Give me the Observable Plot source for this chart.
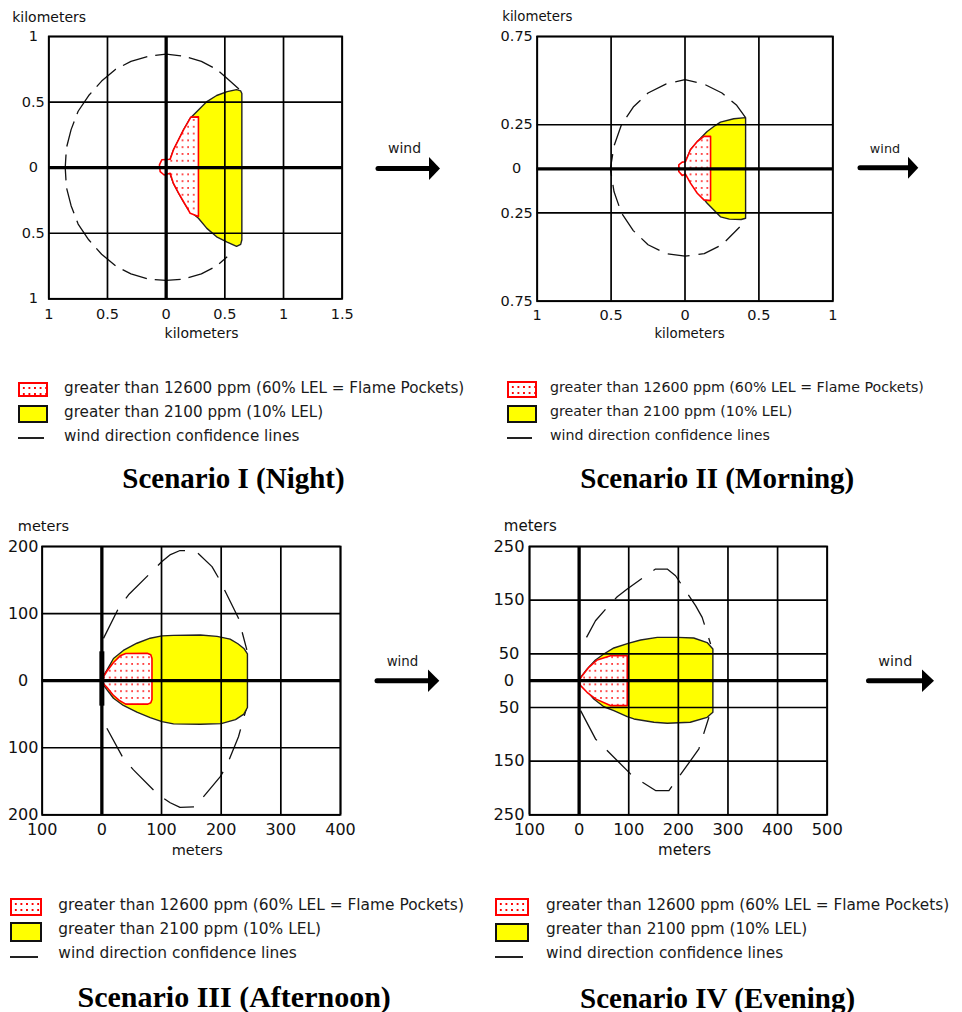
<!DOCTYPE html>
<html><head><meta charset="utf-8">
<script src="https://cdn.jsdelivr.net/npm/d3@7"></script>
<script src="https://cdn.jsdelivr.net/npm/@observablehq/plot@0.6"></script>
<style>
html,body{margin:0;padding:0;background:#fff;}
body{width:962px;height:1012px;position:relative;overflow:hidden;font-family:"DejaVu Sans",Verdana,sans-serif;}
.panel{position:absolute;}
.panel svg{display:block;}
.ltext{position:absolute;white-space:nowrap;color:#1a1a1a;transform:translateY(-50%);line-height:1.2;}
.sw{position:absolute;box-sizing:border-box;}
.title{position:absolute;font-family:"Liberation Serif","Times New Roman",serif;font-weight:bold;color:#000;white-space:nowrap;transform:translate(-50%,-50%);line-height:1.2;}
#overlay{position:absolute;left:0;top:0;}
</style></head><body>
<script>
// ---------------- DATA ----------------
const titles = ["Scenario I (Night)", "Scenario II (Morning)", "Scenario III (Afternoon)", "Scenario IV (Evening)"];
const units = ["kilometers", "kilometers", "meters", "meters"];
const legendLabels = ["greater than 12600 ppm (60% LEL = Flame Pockets)", "greater than 2100 ppm (10% LEL)", "wind direction confidence lines"];
const windLabel = "wind";

// Scenario I (km)
const p1XTicks = [-1, -0.5, 0, 0.5, 1, 1.5];
const p1YTicks = [-1, -0.5, 0, 0.5, 1];
const p1Yellow = [[0.02,0],[0.034,0.064],[0.062,0.135],[0.105,0.211],[0.148,0.288],[0.205,0.377],[0.275,0.44],[0.347,0.504],[0.43,0.55],[0.52,0.58],[0.60,0.595],[0.635,0.585],[0.645,0.565],[0.645,-0.55],[0.635,-0.585],[0.60,-0.60],[0.52,-0.567],[0.43,-0.527],[0.347,-0.463],[0.275,-0.386],[0.19,-0.323],[0.148,-0.26],[0.105,-0.193],[0.062,-0.12],[0.034,-0.05]];
const p1Red = [[0.034,0.064],[-0.037,0.06],[-0.057,0.021],[-0.051,-0.031],[-0.017,-0.056],[0.034,-0.043],[0.062,-0.12],[0.105,-0.193],[0.148,-0.26],[0.19,-0.323],[0.205,-0.348],[0.275,-0.372],[0.275,0.387],[0.21,0.385],[0.19,0.353],[0.148,0.288],[0.105,0.211],[0.062,0.135]];
const p1Dash = [[[0.62,0.60],[0.52,0.68],[0.43,0.75],[0.30,0.81],[0.15,0.85],[0,0.865],[-0.15,0.85],[-0.30,0.81],[-0.43,0.75],[-0.55,0.66],[-0.66,0.55],[-0.75,0.43],[-0.81,0.29],[-0.85,0.15],[-0.86,0],[-0.85,-0.15],[-0.81,-0.29],[-0.75,-0.43],[-0.66,-0.55],[-0.55,-0.66],[-0.43,-0.75],[-0.30,-0.81],[-0.15,-0.85],[0,-0.86],[0.15,-0.85],[0.30,-0.81],[0.43,-0.75],[0.52,-0.68]]];

// Scenario II (km)
const p2XTicks = [-1, -0.5, 0, 0.5, 1];
const p2YTicks = [-0.75, -0.25, 0, 0.25, 0.75];
const p2Yellow = [[0,0],[0.003,0.04],[0.037,0.108],[0.105,0.174],[0.15,0.212],[0.195,0.24],[0.24,0.265],[0.33,0.284],[0.41,0.29],[0.41,-0.28],[0.38,-0.287],[0.30,-0.285],[0.24,-0.272],[0.195,-0.233],[0.15,-0.195],[0.105,-0.148],[0.037,-0.072],[0.003,-0.025]];
const p2Red = [[0.003,0.04],[0.037,0.108],[0.083,0.155],[0.128,0.184],[0.173,0.184],[0.173,-0.18],[0.128,-0.176],[0.083,-0.138],[0.037,-0.081],[0.003,-0.03],[-0.019,-0.037],[-0.042,-0.015],[-0.042,0.023],[-0.019,0.038]];
const p2Dash = [[[0.41,0.29],[0.35,0.36],[0.25,0.43],[0.13,0.48],[0,0.505],[-0.13,0.48],[-0.25,0.43],[-0.35,0.35],[-0.43,0.25],[-0.48,0.13],[-0.505,0],[-0.48,-0.13],[-0.43,-0.25],[-0.35,-0.35],[-0.25,-0.43],[-0.13,-0.48],[0,-0.495],[0.13,-0.48],[0.25,-0.43],[0.37,-0.33]]];

// Scenario III (m)
const p3XTicks = [-100, 0, 100, 200, 300, 400];
const p3YTicks = [-200, -100, 0, 100, 200];
const p3Yellow = [[0,3],[8,15],[19.5,33],[36,45],[58.7,55.8],[81,63.3],[100.7,66.7],[120,67.5],[165,68],[193,66],[215,62],[228,55],[238,48],[244,40],[244,-40],[238,-50],[224,-58],[200,-64],[165,-65],[120,-64.5],[100.7,-61],[81,-55],[58.7,-47],[36,-37],[19.5,-26.3],[8,-13],[0,-3]];
const p3Red = [[0,2],[8.4,14],[19.5,27],[30.7,37],[40,40.5],[76,40.9],[82,38.5],[84,33],[84,-28],[82,-33],[77,-35],[40,-35],[30,-30],[19.5,-22],[8.4,-10],[0,-2]];
const p3Dash = [
  [[2.7,63],[28,108],[44.7,128],[86.6,165],[100.7,177.6],[115,188],[131,194],[156.5,194],[184.6,170],[195.7,153],[220.8,108],[229,93],[243,45.8]],
  [[8.4,-71],[36,-116],[53,-133],[95,-170.6],[114.6,-182],[131,-189],[156.5,-188],[198.5,-143],[209.7,-126],[229,-83.6],[243,-39]]
];
const p3Source = [{x: 0, y1: -38, y2: 43}];

// Scenario IV (m)
const p4XTicks = [-100, 0, 100, 200, 300, 400, 500];
const p4YTicks = [-250, -150, -50, 0, 50, 150, 250];
const p4Yellow = [[0,0],[3,6],[16.3,21.7],[33,38.5],[49.8,49.7],[70,60.9],[100.5,70],[124,75.8],[157.6,80.7],[197.8,80.7],[231,79.5],[258,71],[269.6,59],[269.6,-59],[258,-68.3],[224,-77.6],[177.6,-79.5],[150.8,-77.6],[110.5,-71.4],[97,-67],[70,-56],[49.8,-48.6],[29.6,-34.3],[9.5,-12.4]];
const p4Red = [[0,0],[6.2,9.3],[19.6,24.8],[36.4,38.5],[63.3,46.5],[97,46.5],[97,-46.5],[63,-46.5],[33,-34],[16,-21.7],[3,-9.3]];
const p4Dash = [
  [[14.9,80.7],[33,111.7],[56.6,136.5],[76.8,156.4],[97,170.7],[133.9,195.5],[154,208],[177.6,208],[194.4,195.5],[234.7,139.7],[248,117.9],[265,68.3]],
  [[3,-55.9],[33,-108.6],[49.8,-124],[103.6,-173.8],[127,-189],[154,-204.8],[181,-204.8],[224.6,-149],[241.4,-127],[261.6,-68.3]]
];

// ---------------- LAYOUT ----------------
const panels = [
  {id:"p1", xTicks:p1XTicks, yTicks:p1YTicks, yellow:p1Yellow, red:p1Red, dash:p1Dash, source:null,
   left:0, top:0, width:480, height:345, m:[36,138.3,46.7,48.3], thickX0:true,
   tickFont:14.5, unitFont:14, yTickDx:-15.5, xTickDy:15.3, unitTop:[-36.6,-19.3], unitBottom:[6,35], dashArray:"26,8",
   arrow:{x0:378,x1:429,tip:440,y:168.5,hh:11.5}, wind:{x:404.6,y:148,size:14},
   legend:{sx:18, sw:30, red:[381.7,15.6], yellow:[405,17.7], line:[438,26], tx:64, rows:[388,412,436], size:15.2},
   title:{x:233.5,y:478,size:29}},
  {id:"p2", xTicks:p2XTicks, yTicks:p2YTicks, yellow:p2Yellow, red:p2Red, dash:p2Dash, source:null,
   left:480, top:0, width:482, height:345, m:[36,129.7,44.3,56.7], thickX0:false,
   tickFont:14.5, unitFont:13.3, yTickDx:-20.5, xTickDy:14.3, unitTop:[-35,-19.3], unitBottom:[4.5,32.6], dashArray:"22,9",
   arrow:{x0:860,x1:908,tip:918.3,y:167.7,hh:11}, wind:{x:885,y:148.3,size:12.8},
   legend:{sx:506.7, sw:30, red:[380.7,17.6], yellow:[405,18.3], line:[438.3,25], tx:550, rows:[388.3,411.7,436], size:14.2},
   title:{x:717.3,y:478.3,size:29}},
  {id:"p3", xTicks:p3XTicks, yTicks:p3YTicks, yellow:p3Yellow, red:p3Red, dash:p3Dash, source:p3Source,
   left:0, top:510, width:480, height:345, m:[36,140,40.7,41.7], thickX0:true,
   tickFont:16, unitFont:14.5, yTickDx:-19, xTickDy:15.3, unitTop:[-24.4,-20], unitBottom:[5.9,35.7], dashArray:"32,14",
   arrow:{x0:377,x1:428,tip:439.3,y:680.7,hh:11.2}, wind:{x:402.5,y:661,size:13.4},
   legend:{sx:10, sw:32.3, red:[897.7,18], yellow:[921.7,20], line:[957.3,28.3], tx:58.3, rows:[905,929.3,953.3], size:15.4},
   title:{x:234.2,y:996.7,size:30}},
  {id:"p4", xTicks:p4XTicks, yTicks:p4YTicks, yellow:p4Yellow, red:p4Red, dash:p4Dash, source:null,
   left:480, top:510, width:482, height:345, m:[36,135.3,40.7,49], thickX0:true,
   tickFont:16.3, unitFont:15, yTickDx:-20.5, xTickDy:15, unitTop:[-25.7,-20], unitBottom:[6.2,35.7], dashArray:"34,14",
   arrow:{x0:868.5,x1:922,tip:934,y:680.7,hh:11.2}, wind:{x:895.3,y:661,size:14.4},
   legend:{sx:495, sw:34, red:[898,18], yellow:[923,19], line:[957,28], tx:546, rows:[905,929,953], size:15.3},
   title:{x:717.6,y:998,size:29}}
];

const toObj = a => a.map(([x, y]) => ({x, y}));
const fmt = d => String(Math.abs(d));

panels.forEach((c, i) => {
  const xDomain = d3.extent(c.xTicks), yDomain = d3.extent(c.yTicks);
  const marks = [
    ...c.dash.map(seg => Plot.line(toObj(seg), {x: "x", y: "y", stroke: "#111", strokeWidth: 1.3, strokeDasharray: c.dashArray, strokeLinecap: "butt"})),
    Plot.line(toObj(c.yellow), {x: "x", y: "y", curve: "linear-closed", fill: "#ffff00", stroke: "#222", strokeWidth: 1.4}),
    Plot.line(toObj(c.red), {x: "x", y: "y", curve: "linear-closed", fill: `url(#${c.id}-dots)`, stroke: "#ff0000", strokeWidth: 1.6}),
    Plot.ruleX(c.xTicks, {stroke: "#000", strokeWidth: 1.7}),
    Plot.ruleY(c.yTicks, {stroke: "#000", strokeWidth: 1.7}),
    Plot.ruleY([0], {stroke: "#000", strokeWidth: 3.3}),
    c.thickX0 ? Plot.ruleX([0], {stroke: "#000", strokeWidth: 3.3}) : null,
    c.source ? Plot.ruleX(c.source, {x: "x", y1: "y1", y2: "y2", stroke: "#000", strokeWidth: 5}) : null,
    Plot.frame({stroke: "#000", strokeWidth: 1.8}),
    Plot.text(c.xTicks, {x: d => d, frameAnchor: "bottom", lineAnchor: "middle", dy: c.xTickDy, text: fmt, fontSize: c.tickFont, fill: "#111"}),
    Plot.text(c.yTicks, {y: d => d, frameAnchor: "left", lineAnchor: "middle", dx: c.yTickDx, textAnchor: "middle", text: fmt, fontSize: c.tickFont, fill: "#111"}),
    Plot.text([units[i]], {frameAnchor: "top-left", lineAnchor: "middle", dx: c.unitTop[0], dy: c.unitTop[1], textAnchor: "start", text: d => d, fontSize: c.unitFont, fill: "#111"}),
    Plot.text([units[i]], {frameAnchor: "bottom", lineAnchor: "middle", dx: c.unitBottom[0], dy: c.unitBottom[1], text: d => d, fontSize: c.unitFont, fill: "#111"})
  ].filter(Boolean);
  const svg = Plot.plot({
    width: c.width, height: c.height,
    marginTop: c.m[0], marginRight: c.m[1], marginBottom: c.m[2], marginLeft: c.m[3],
    x: {domain: xDomain, axis: null},
    y: {domain: yDomain, axis: null},
    style: {fontFamily: "DejaVu Sans, Verdana, sans-serif", background: "white", overflow: "visible"},
    marks
  });
  d3.select(svg).insert("defs", ":first-child").html(
    `<pattern id="${c.id}-dots" width="5.6" height="6.8" patternUnits="userSpaceOnUse"><rect width="5.6" height="6.8" fill="#fff"/><rect x="2" y="3" width="1.7" height="1.7" fill="#ff2020"/></pattern>`);
  const div = document.createElement("div");
  div.className = "panel";
  div.style.left = c.left + "px"; div.style.top = c.top + "px";
  div.appendChild(svg);
  document.body.appendChild(div);

  // legend
  const L = c.legend;
  const red = document.createElement("div");
  red.className = "sw";
  Object.assign(red.style, {left: L.sx + "px", top: L.red[0] + "px", width: L.sw + "px", height: L.red[1] + "px",
    border: "2px solid #ff0000", background: "#fff",
    backgroundImage: "radial-gradient(circle, #ff0000 0.9px, transparent 1.3px)", backgroundSize: "5.6px 6px", backgroundPosition: "1px 1px"});
  document.body.appendChild(red);
  const yel = document.createElement("div");
  yel.className = "sw";
  Object.assign(yel.style, {left: L.sx + "px", top: L.yellow[0] + "px", width: L.sw + "px", height: L.yellow[1] + "px",
    border: "2px solid #111", background: "#ffff00"});
  document.body.appendChild(yel);
  const ln = document.createElement("div");
  ln.className = "sw";
  Object.assign(ln.style, {left: L.sx + "px", top: (L.line[0] - 1) + "px", width: L.line[1] + "px", height: "2px", background: "#222"});
  document.body.appendChild(ln);
  legendLabels.forEach((t, k) => {
    const d = document.createElement("div");
    d.className = "ltext";
    d.textContent = t;
    Object.assign(d.style, {left: L.tx + "px", top: L.rows[k] + "px", fontSize: L.size + "px"});
    document.body.appendChild(d);
  });

  // title
  const tt = document.createElement("div");
  tt.className = "title";
  tt.textContent = titles[i];
  Object.assign(tt.style, {left: c.title.x + "px", top: c.title.y + "px", fontSize: c.title.size + "px"});
  document.body.appendChild(tt);
});

// wind arrows overlay
const ov = d3.select("body").append("svg").attr("id", "overlay").attr("width", 962).attr("height", 1012);
panels.forEach(c => {
  const a = c.arrow;
  ov.append("line").attr("x1", a.x0).attr("x2", a.x1 + 1).attr("y1", a.y).attr("y2", a.y)
    .attr("stroke", "#000").attr("stroke-width", 5).attr("stroke-linecap", "round");
  ov.append("path").attr("d", `M${a.x1},${a.y - a.hh}L${a.tip},${a.y}L${a.x1},${a.y + a.hh}Z`).attr("fill", "#000");
  ov.append("text").attr("x", c.wind.x).attr("y", c.wind.y).attr("dy", "0.35em").attr("text-anchor", "middle")
    .attr("font-family", "DejaVu Sans, Verdana, sans-serif").attr("font-size", c.wind.size).attr("fill", "#1a1a1a").text(windLabel);
});
</script>
</body></html>
